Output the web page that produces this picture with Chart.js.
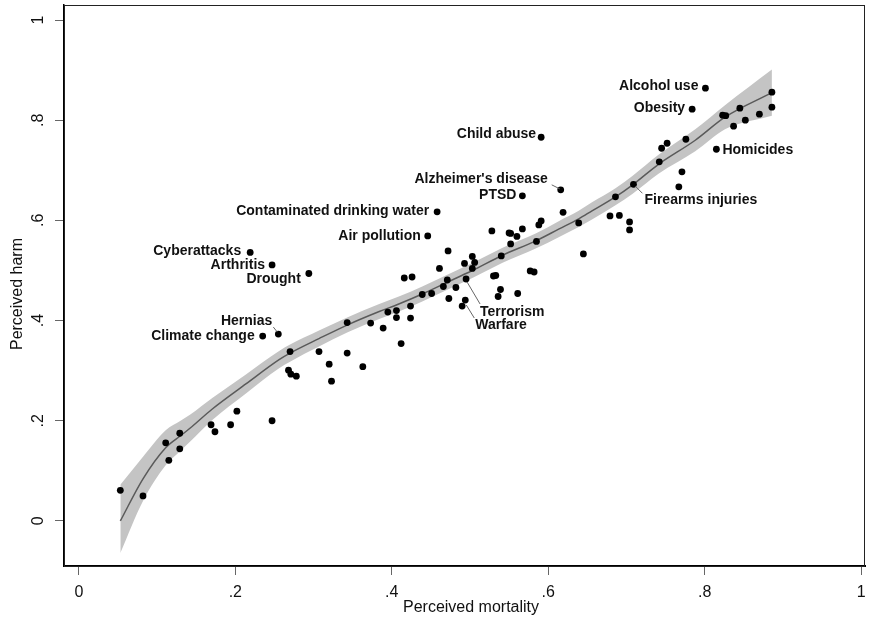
<!DOCTYPE html>
<html>
<head>
<meta charset="utf-8">
<script src="https://cdn.jsdelivr.net/npm/chart.js@4.4.1/dist/chart.umd.min.js"></script>
<style>
    html, body { margin: 0; padding: 0; background: #fff; }
</style>
</head>
<body>
<canvas id="riesgos" width="869" height="623"></canvas>
<script>
// ── Datos: mortalidad percibida (x) vs daño percibido (y) ──────────────────

// puntos sin etiqueta
const mortality = [
    0.053, 0.082, 0.111, 0.115, 0.129, 0.129, 0.169, 0.174, 0.194, 0.202, 0.247,
    0.270, 0.268, 0.271, 0.278, 0.307, 0.320, 0.323, 0.343, 0.343, 0.363, 0.373,
    0.389, 0.395, 0.406, 0.406, 0.412, 0.416, 0.424, 0.424, 0.426, 0.439, 0.451,
    0.461, 0.466, 0.471, 0.472, 0.473, 0.482, 0.490, 0.493, 0.503, 0.503, 0.506,
    0.528, 0.530, 0.533, 0.536, 0.539, 0.540, 0.550, 0.552, 0.552, 0.560, 0.561,
    0.567, 0.577, 0.582, 0.585, 0.588, 0.591, 0.619, 0.639, 0.645, 0.679, 0.686,
    0.691, 0.704, 0.704, 0.742, 0.745, 0.752, 0.767, 0.771, 0.776, 0.823, 0.827,
    0.837, 0.845, 0.852, 0.870, 0.886, 0.886,
];
const harm = [
    0.061, 0.050, 0.156, 0.121, 0.175, 0.144, 0.192, 0.178, 0.192, 0.219, 0.200,
    0.338, 0.301, 0.293, 0.289, 0.338, 0.313, 0.279, 0.396, 0.335, 0.308, 0.395,
    0.385, 0.417, 0.420, 0.406, 0.354, 0.485, 0.429, 0.405, 0.487, 0.452, 0.454,
    0.504, 0.468, 0.481, 0.539, 0.444, 0.466, 0.429, 0.514, 0.528, 0.504, 0.516,
    0.579, 0.489, 0.490, 0.448, 0.462, 0.529, 0.575, 0.574, 0.553, 0.568, 0.454,
    0.583, 0.499, 0.497, 0.558, 0.591, 0.599, 0.616, 0.595, 0.533, 0.609, 0.647,
    0.610, 0.597, 0.581, 0.717, 0.744, 0.754, 0.667, 0.697, 0.762, 0.810, 0.809,
    0.788, 0.824, 0.800, 0.812, 0.856, 0.826,
];

// puntos con etiqueta
const labelNames = [
    "Cyberattacks", "Arthritis", "Drought", "Hernias", "Climate change",
    "Contaminated drinking water", "Air pollution", "PTSD", "Alzheimer's disease",
    "Child abuse", "Alcohol use", "Obesity", "Homicides", "Firearms injuries",
    "Terrorism", "Warfare",
];
const labelMortality = [
    0.219, 0.247, 0.294, 0.255, 0.235,
    0.458, 0.446, 0.567, 0.616,
    0.591, 0.801, 0.784, 0.815, 0.709,
    0.495, 0.494,
];
const labelHarm = [
    0.536, 0.511, 0.494, 0.373, 0.369,
    0.617, 0.569, 0.649, 0.661,
    0.766, 0.864, 0.822, 0.742, 0.672,
    0.483, 0.441,
];

// curva ajustada e intervalo de confianza
const fitX    = [0.053, 0.082, 0.111, 0.130, 0.142, 0.171, 0.214, 0.256, 0.270, 0.307, 0.343, 0.384, 0.409, 0.439, 0.469, 0.503, 0.541, 0.584, 0.614, 0.639, 0.656, 0.686, 0.708, 0.741, 0.788, 0.826, 0.886];
const fitY    = [0.000, 0.084, 0.146, 0.170, 0.185, 0.224, 0.274, 0.322, 0.335, 0.364, 0.391, 0.418, 0.433, 0.453, 0.475, 0.500, 0.530, 0.559, 0.583, 0.603, 0.619, 0.647, 0.671, 0.712, 0.760, 0.806, 0.855];
const fitLow  = [-0.064, 0.040, 0.111, 0.140, 0.158, 0.202, 0.255, 0.305, 0.318, 0.348, 0.376, 0.403, 0.418, 0.438, 0.460, 0.485, 0.515, 0.544, 0.567, 0.587, 0.602, 0.630, 0.653, 0.693, 0.738, 0.782, 0.809];
const fitHigh = [0.072, 0.128, 0.181, 0.200, 0.212, 0.246, 0.293, 0.339, 0.352, 0.380, 0.406, 0.433, 0.448, 0.468, 0.490, 0.515, 0.545, 0.574, 0.599, 0.619, 0.636, 0.664, 0.689, 0.731, 0.782, 0.830, 0.901];

// ejes
const tickValues = [0, 0.2, 0.4, 0.6, 0.8, 1];
const tickLabels = ["0", ".2", ".4", ".6", ".8", "1"];

// ── Estilo ─────────────────────────────────────────────────────────────────

const FONT = "'Liberation Sans', Arial, sans-serif";
const INK = "#111";

// dónde va cada etiqueta respecto a su punto (px)
const labelPlacement = {
    "Cyberattacks":                { dx: -9,  dy: -1,  align: "right" },
    "Arthritis":                   { dx: -7,  dy: 0,   align: "right" },
    "Drought":                     { dx: -8,  dy: 6,   align: "right" },
    "Hernias":                     { dx: -6,  dy: -13, align: "right", lead: [-5, -7, -1, -2] },
    "Climate change":              { dx: -8,  dy: 0,   align: "right" },
    "Contaminated drinking water": { dx: -8,  dy: -1,  align: "right" },
    "Air pollution":               { dx: -7,  dy: 0,   align: "right" },
    "PTSD":                        { dx: -6,  dy: -1,  align: "right" },
    "Alzheimer's disease":         { dx: -13, dy: -11, align: "right", lead: [-9, -5, -1, -1] },
    "Child abuse":                 { dx: -5,  dy: -3,  align: "right" },
    "Alcohol use":                 { dx: -7,  dy: -2,  align: "right" },
    "Obesity":                     { dx: -7,  dy: -1,  align: "right" },
    "Homicides":                   { dx: 6,   dy: 1,   align: "left" },
    "Firearms injuries":           { dx: 11,  dy: 16,  align: "left", lead: [2, 2, 9, 9] },
    "Terrorism":                   { dx: 14,  dy: 33,  align: "left", lead: [1, 3, 14, 25] },
    "Warfare":                     { dx: 10,  dy: 25,  align: "left", lead: [1, 5, 9, 18] },
};

const toXY = (xs, ys) => xs.map((x, i) => ({ x: x, y: ys[i] }));

// etiquetas, líneas guía, títulos y marco
const decoraciones = {
    id: "decoraciones",
    afterDraw(chart) {
        const ctx = chart.ctx;
        const sx = chart.scales.x;
        const sy = chart.scales.y;
        const a = chart.chartArea;

        ctx.save();
        ctx.strokeStyle = "#222";
        ctx.lineWidth = 1;
        ctx.strokeRect(a.left + 0.5, a.top + 0.5, a.right - a.left - 1, a.bottom - a.top);

        ctx.font = "bold 14px " + FONT;
        ctx.textBaseline = "middle";
        labelNames.forEach((name, i) => {
            const p = labelPlacement[name];
            const px = sx.getPixelForValue(labelMortality[i]);
            const py = sy.getPixelForValue(labelHarm[i]);
            if (p.lead) {
                ctx.strokeStyle = "#666";
                ctx.lineWidth = 1;
                ctx.beginPath();
                ctx.moveTo(px + p.lead[0], py + p.lead[1]);
                ctx.lineTo(px + p.lead[2], py + p.lead[3]);
                ctx.stroke();
            }
            ctx.fillStyle = INK;
            ctx.textAlign = p.align;
            ctx.fillText(name, px + p.dx, py + p.dy);
        });

        ctx.font = "16px " + FONT;
        ctx.fillStyle = INK;
        ctx.textAlign = "center";
        ctx.fillText("Perceived mortality", 471, 608);
        ctx.translate(18, 294);
        ctx.rotate(-Math.PI / 2);
        ctx.fillText("Perceived harm", 0, 0);
        ctx.restore();
    },
};

const curva = { pointRadius: 0, cubicInterpolationMode: "monotone" };

new Chart(document.getElementById("riesgos"), {
    type: "scatter",
    data: {
        datasets: [
            {
                label: "Riesgos",
                data: toXY(mortality, harm).concat(toXY(labelMortality, labelHarm)),
                backgroundColor: "#000",
                borderWidth: 0,
                pointRadius: 3.4,
                order: 0,
            },
            {
                ...curva,
                label: "Ajuste",
                type: "line",
                data: toXY(fitX, fitY),
                borderColor: "#5a5a5a",
                borderWidth: 1.5,
                fill: false,
                order: 1,
            },
            {
                ...curva,
                label: "IC superior",
                type: "line",
                data: toXY(fitX, fitHigh),
                borderWidth: 0,
                borderColor: "rgba(0,0,0,0)",
                backgroundColor: "#c4c4c4",
                fill: "+1",
                order: 2,
            },
            {
                ...curva,
                label: "IC inferior",
                type: "line",
                data: toXY(fitX, fitLow),
                borderWidth: 0,
                borderColor: "rgba(0,0,0,0)",
                fill: false,
                order: 3,
            },
        ],
    },
    options: {
        responsive: false,
        animation: false,
        layout: { padding: { top: 5, right: 2, left: 0, bottom: 0 } },
        plugins: {
            legend: { display: false },
            tooltip: { enabled: false },
        },
        scales: {
            x: {
                type: "linear",
                min: -0.019,
                max: 1.005,
                afterFit: (s) => { s.height = 57; s.paddingLeft = 0; s.paddingRight = 0; },
                afterBuildTicks: (s) => { s.ticks = tickValues.map((v) => ({ value: v })); },
                grid: { display: true, drawOnChartArea: false, drawTicks: true, tickLength: 9, color: "#666", lineWidth: 1 },
                border: { display: true, color: "#000", width: 2 },
                ticks: {
                    padding: 8,
                    maxRotation: 0,
                    font: { family: FONT, size: 16 },
                    color: INK,
                    callback: (v) => tickLabels[tickValues.indexOf(v)],
                },
            },
            y: {
                type: "linear",
                min: -0.09,
                max: 1.03,
                afterFit: (s) => { s.width = 64; s.paddingTop = 0; s.paddingBottom = 0; },
                afterBuildTicks: (s) => { s.ticks = tickValues.map((v) => ({ value: v })); },
                grid: { display: true, drawOnChartArea: false, drawTicks: true, tickLength: 9, color: "#666", lineWidth: 1 },
                border: { display: true, color: "#000", width: 1.5 },
                ticks: {
                    padding: 10,
                    minRotation: 90,
                    maxRotation: 90,
                    crossAlign: "center",
                    font: { family: FONT, size: 16 },
                    color: INK,
                    callback: (v) => tickLabels[tickValues.indexOf(v)],
                },
            },
        },
    },
    plugins: [decoraciones],
});
</script>
</body>
</html>
